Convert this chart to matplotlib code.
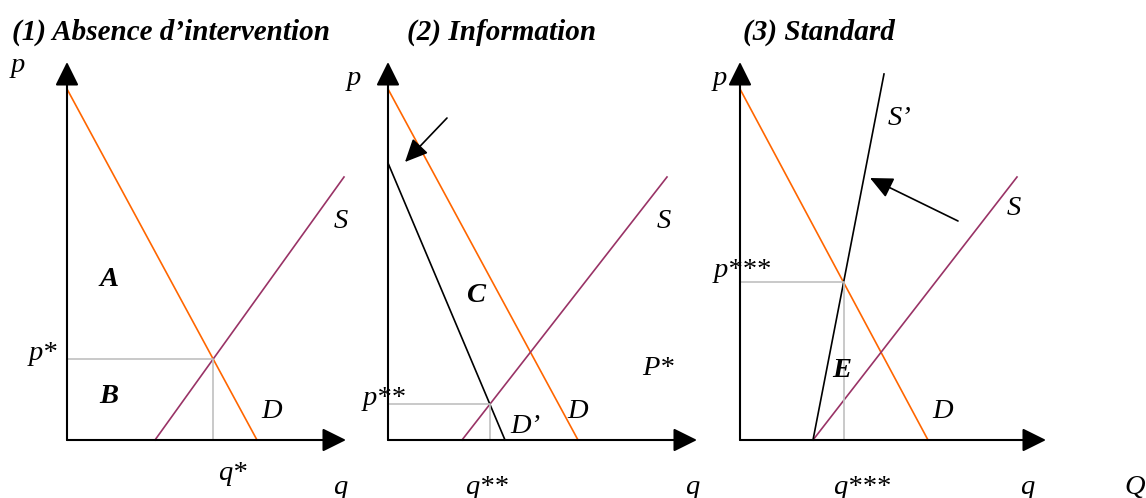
import matplotlib.pyplot as plt

plt.rcParams['font.family'] = ['Liberation Serif', 'DejaVu Serif']

W, H = 1146, 498
UNIT = 10.0  # pixels per economic unit

ORANGE = '#FF6600'
PURPLE = '#993366'
GREY = '#C0C0C0'

titles = ['(1) Absence d\u2019intervention', '(2) Information', '(3) Standard']

# demand curves: (q intercept, p intercept)
demand = [(19.0, 35.1), (19.0, 35.1), (18.8, 35.1)]
demand_info = (11.7, 27.7)          # D' in panel 2
# supply curves: q and p of both ends
supply_q = [[8.8, 27.7], [7.4, 27.9], [7.3, 27.7]]
supply_p = [[0, 26.3], [0, 26.3], [0, 26.3]]
standard_q = [7.3, 14.4]            # S' in panel 3
standard_p = [0, 36.6]
# top of the p axis and end of the q axis
p_axis_top = 37.8
q_axis_end = [27.9, 30.9, 30.6]


def line_through(q0, p0, q1, p1):
    slope = (p1 - p0) / (q1 - q0)
    return slope, p0 - slope * q0


def cross(l1, l2):
    q = (l2[1] - l1[1]) / (l1[0] - l2[0])
    return q, l1[0] * q + l1[1]


fig = plt.figure(figsize=(W / 100, H / 100), dpi=100)


def panel(origin, left, width):
    ax = fig.add_axes([left / W, 0, width / W, 1])
    ax.set_xlim((left - origin[0]) / UNIT, (left + width - origin[0]) / UNIT)
    ax.set_ylim((origin[1] - H) / UNIT, origin[1] / UNIT)
    ax.axis('off')
    return ax


def axes_arrows(ax, q_end):
    kw = dict(arrowstyle='-|>,head_length=1.45,head_width=0.72', lw=1.5,
              color='black', shrinkA=0, shrinkB=0, mutation_scale=10)
    ax.annotate('', xy=(0, p_axis_top), xytext=(0, 0), arrowprops=kw)
    ax.annotate('', xy=(q_end, 0), xytext=(0, 0), arrowprops=kw)


def shift_arrow(ax, tail, tip):
    ax.annotate('', xy=tip, xytext=tail,
                arrowprops=dict(arrowstyle='-|>,head_length=1.4,head_width=0.65',
                                lw=1.2, color='black', shrinkA=0, shrinkB=0,
                                mutation_scale=10))


def label(ax, x, y, s, bold=False, ha='center'):
    ax.text(x, y, s, fontsize=20.5, style='italic',
            fontweight='bold' if bold else 'normal', ha=ha, va='baseline')


origins = [(67, 440), (388, 440), (740, 440)]
lefts = [(0, 370), (340, 370), (690, 456)]
title_x = [12, 407, 743]

axs = []
for i in range(3):
    ax = panel(origins[i], *lefts[i])
    axs.append(ax)
    fig.text(title_x[i] / W, 1 - 40 / H, titles[i], fontsize=21,
             style='italic', fontweight='bold', ha='left', va='baseline')
    dq, dp = demand[i]
    ax.plot([0, dq], [dp, 0], color=ORANGE, lw=1.2, clip_on=False)
    ax.plot(supply_q[i], supply_p[i], color=PURPLE, lw=1.2, clip_on=False)
    axes_arrows(ax, q_axis_end[i])

# --- panel 1
ax = axs[0]
d_line = line_through(0, demand[0][1], demand[0][0], 0)
s_line = line_through(supply_q[0][0], supply_p[0][0], supply_q[0][1], supply_p[0][1])
q_star, p_star = cross(d_line, s_line)
ax.plot([0, q_star, q_star], [p_star, p_star, 0], color=GREY, lw=1.2)
label(ax, -4.9, 36.8, 'p')
label(ax, 4.2, 15.4, 'A', bold=True)
label(ax, 4.2, 3.7, 'B', bold=True)
label(ax, 20.5, 2.2, 'D')
label(ax, 27.4, 21.2, 'S')
label(ax, -1.0, 8.0, 'p*', ha='right')
label(ax, 16.5, -4.0, 'q*')
label(ax, 27.3, -5.4, 'q')

# --- panel 2
ax = axs[1]
ax.plot([0, demand_info[0]], [demand_info[1], 0], color='black', lw=1.2)
d_line = line_through(0, demand_info[1], demand_info[0], 0)
s_line = line_through(supply_q[1][0], supply_p[1][0], supply_q[1][1], supply_p[1][1])
q2, p2 = cross(d_line, s_line)
ax.plot([0, q2, q2], [p2, p2, 0], color=GREY, lw=1.2)
shift_arrow(ax, (5.9, 32.2), (1.7, 27.8))
label(ax, -3.4, 35.5, 'p')
label(ax, 8.8, 13.8, 'C', bold=True)
label(ax, 27.6, 21.2, 'S')
label(ax, 27.0, 6.5, 'P*')
label(ax, -0.4, 3.5, 'p**')
label(ax, 12.2, 0.7, 'D\u2019', ha='left')
label(ax, 19.0, 2.2, 'D')
label(ax, 9.8, -5.4, 'q**')
label(ax, 30.4, -5.4, 'q')

# --- panel 3
ax = axs[2]
ax.plot(standard_q, standard_p, color='black', lw=1.2, clip_on=False)
d_line = line_through(0, demand[2][1], demand[2][0], 0)
s_line = line_through(standard_q[0], standard_p[0], standard_q[1], standard_p[1])
q3, p3 = cross(d_line, s_line)
ax.plot([0, q3, q3], [p3, p3, 0], color=GREY, lw=1.2)
shift_arrow(ax, (21.8, 21.9), (13.0, 26.2))
label(ax, -2.0, 35.5, 'p')
label(ax, 14.8, 31.5, 'S\u2019', ha='left')
label(ax, 27.4, 22.5, 'S')
label(ax, 0.2, 16.3, 'p***')
label(ax, 10.2, 6.3, 'E', bold=True)
label(ax, 20.3, 2.2, 'D')
label(ax, 12.2, -5.4, 'q***')
label(ax, 28.7, -5.4, 'q')
label(ax, 39.5, -5.4, 'Q')

fig.savefig('out.png', dpi=100, facecolor='white')
